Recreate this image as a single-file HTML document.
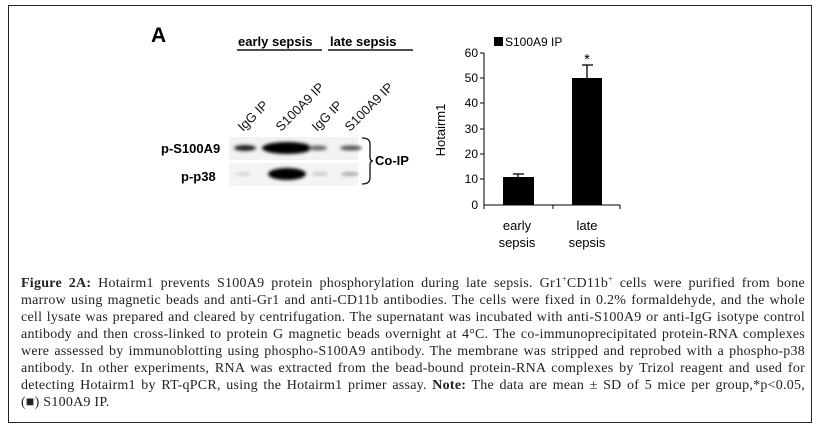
<!DOCTYPE html>
<html><head><style>
body{margin:0;width:821px;height:429px;background:#fff;position:relative;overflow:hidden}
.box{position:absolute;left:8px;top:5px;width:802px;height:416px;border:1px solid #222}
.cap{position:absolute;left:21px;top:275px;width:784px;font:14px/17px "Liberation Serif",serif;color:#222;letter-spacing:0.25px}
.cap div{text-align:justify;text-align-last:justify;white-space:nowrap;height:17px}
.cap div.l{text-align-last:left}
</style></head><body>
<div class="box"></div>
<svg width="821" height="429" style="position:absolute;left:0;top:0" font-family="Liberation Sans, sans-serif">
<defs>
<filter id="b"><feGaussianBlur stdDeviation="1.6"/></filter>
</defs>
<text x="151" y="42" font-size="21" font-weight="bold">A</text>
<text x="238" y="46" font-size="13" font-weight="bold">early sepsis</text>
<text x="330" y="46" font-size="13" font-weight="bold">late sepsis</text>
<line x1="237" y1="50" x2="322" y2="50" stroke="#111" stroke-width="1.5"/>
<line x1="328" y1="50" x2="413" y2="50" stroke="#111" stroke-width="1.5"/>
<g font-size="13" fill="#111">
<text transform="translate(243,132) rotate(-45)">IgG IP</text>
<text transform="translate(281,132) rotate(-45)">S100A9 IP</text>
<text transform="translate(317,132) rotate(-45)">IgG IP</text>
<text transform="translate(350,132) rotate(-45)">S100A9 IP</text>
</g>
<rect x="229" y="137" width="129" height="23" fill="#f2f2f2"/>
<rect x="229" y="163" width="129" height="23" fill="#f4f4f4"/>
<g filter="url(#b)">
<ellipse cx="245" cy="148" rx="11" ry="3" fill="#222"/>
<ellipse cx="287" cy="148" rx="25" ry="6" fill="#000"/>
<ellipse cx="318" cy="148" rx="9" ry="2.5" fill="#666"/>
<ellipse cx="351" cy="148" rx="11" ry="2.5" fill="#555"/>
<ellipse cx="287" cy="174" rx="19" ry="6" fill="#000"/>
<ellipse cx="243" cy="174" rx="8" ry="1.5" fill="#ccc"/>
<ellipse cx="320" cy="174" rx="8" ry="1.5" fill="#bbb"/>
<ellipse cx="350" cy="174" rx="9" ry="2" fill="#aaa"/>
</g>
<text x="161" y="153" font-size="13" font-weight="bold">p-S100A9</text>
<text x="181" y="181" font-size="13" font-weight="bold">p-p38</text>
<path d="M362 138 Q370 138 370 144 L370 157 Q370 161 373 161 Q370 161 370 165 L370 178 Q370 184 362 184" fill="none" stroke="#111" stroke-width="1.3"/>
<text x="375" y="165" font-size="13" font-weight="bold">Co-IP</text>

<rect x="494" y="37" width="9" height="9" fill="#000"/>
<text x="505" y="46" font-size="12">S100A9 IP</text>
<line x1="484" y1="53" x2="484" y2="205" stroke="#000"/>
<line x1="484" y1="205" x2="620" y2="205" stroke="#000"/>
<g stroke="#000">
<line x1="480" y1="53" x2="484" y2="53"/><line x1="480" y1="78" x2="484" y2="78"/><line x1="480" y1="103" x2="484" y2="103"/><line x1="480" y1="129" x2="484" y2="129"/><line x1="480" y1="154" x2="484" y2="154"/><line x1="480" y1="179" x2="484" y2="179"/>
<line x1="553" y1="205" x2="553" y2="209"/><line x1="620" y1="205" x2="620" y2="209"/><line x1="484" y1="205" x2="484" y2="209"/>
</g>
<g font-size="12" text-anchor="end">
<text x="478" y="57">60</text><text x="478" y="82">50</text><text x="478" y="107">40</text><text x="478" y="133">30</text><text x="478" y="158">20</text><text x="478" y="183">10</text><text x="478" y="209">0</text>
</g>
<rect x="503" y="177" width="31" height="28" fill="#000"/>
<rect x="572" y="78" width="30" height="127" fill="#000"/>
<g stroke="#000" stroke-width="1.3">
<line x1="518" y1="177" x2="518" y2="174"/><line x1="513" y1="174" x2="524" y2="174"/>
<line x1="587" y1="78" x2="587" y2="65"/><line x1="582" y1="65" x2="593" y2="65"/>
</g>
<text x="587" y="64" font-size="15" text-anchor="middle">*</text>
<text transform="translate(445,130) rotate(-90)" font-size="13" text-anchor="middle">Hotairm1</text>
<g font-size="13" text-anchor="middle">
<text x="517" y="230">early</text><text x="517" y="247">sepsis</text>
<text x="587" y="230">late</text><text x="587" y="247">sepsis</text>
</g>
</svg>
<div class="cap">
<div><b>Figure 2A:</b> Hotairm1 prevents S100A9 protein phosphorylation during late sepsis. Gr1<sup style="font-size:8px;line-height:0">+</sup>CD11b<sup style="font-size:8px;line-height:0">+</sup> cells were purified from bone</div>
<div>marrow using magnetic beads and anti-Gr1 and anti-CD11b antibodies. The cells were fixed in 0.2% formaldehyde, and the whole</div>
<div>cell lysate was prepared and cleared by centrifugation. The supernatant was incubated with anti-S100A9 or anti-IgG isotype control</div>
<div>antibody and then cross-linked to protein G magnetic beads overnight at 4°C. The co-immunoprecipitated protein-RNA complexes</div>
<div>were assessed by immunoblotting using phospho-S100A9 antibody. The membrane was stripped and reprobed with a phospho-p38</div>
<div>antibody. In other experiments, RNA was extracted from the bead-bound protein-RNA complexes by Trizol reagent and used for</div>
<div>detecting Hotairm1 by RT-qPCR, using the Hotairm1 primer assay. <b>Note:</b> The data are mean ± SD of 5 mice per group,*p&lt;0.05,</div>
<div class="l">(&#9632;) S100A9 IP.</div>
</div>
</body></html>
